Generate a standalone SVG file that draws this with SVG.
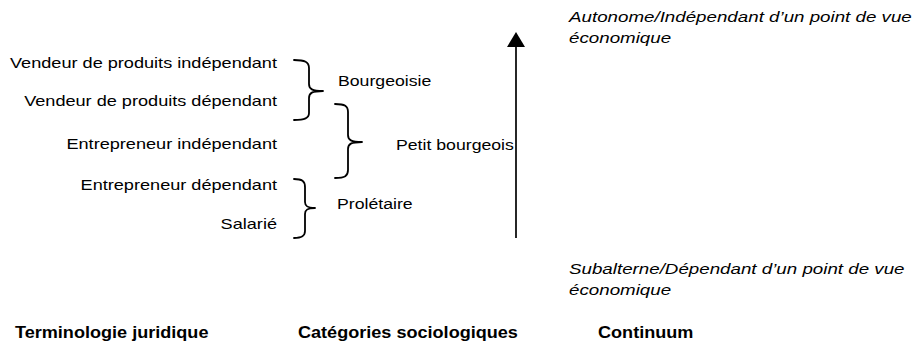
<svg xmlns="http://www.w3.org/2000/svg" width="923" height="341" viewBox="0 0 923 341">
<defs>
<style>
text{font-family:"Liberation Sans",Arial,sans-serif;fill:#000}
.r{font-size:14.5px}
.e{text-anchor:end}
.i{font-size:15px;font-style:italic}
.b{font-size:16px;font-weight:bold}
.br{fill:none;stroke:#000;stroke-width:1.8;stroke-linecap:round;stroke-linejoin:round}
.ax{stroke:#000;stroke-width:1.7}
</style>
</defs>
<rect width="923" height="341" fill="#fff"/>
<g id="legal">
<g id="t1"><text class="r e" transform="translate(277,68) scale(1.25,1)">Vendeur de produits indépendant</text></g>
<g id="t2"><text class="r e" transform="translate(277,106) scale(1.25,1)">Vendeur de produits dépendant</text></g>
<g id="t3"><text class="r e" transform="translate(277,149) scale(1.25,1)">Entrepreneur indépendant</text></g>
<g id="t4"><text class="r e" transform="translate(277,190) scale(1.25,1)">Entrepreneur dépendant</text></g>
<g id="t5"><text class="r e" transform="translate(277,229) scale(1.25,1)">Salarié</text></g>
</g>
<g id="bourgeoisie">
<path class="br" d="M294,60 C305,60 309,62 309,68 L309,84 C309,89 312,91 323,91 C312,91 309,93 309,98 L309,113 C309,118 305,120 294,120"/>
<text class="r" transform="translate(338,86) scale(1.22,1)">Bourgeoisie</text>
</g>
<g id="petit-bourgeois">
<path class="br" d="M335,104 C345,104 348,106 348,112 L348,135 C348,140 351,142 362,142 C351,142 348,144 348,149 L348,170 C348,176 345,178 335,178"/>
<text class="r" transform="translate(396,150) scale(1.22,1)">Petit bourgeois</text>
</g>
<g id="proletaire">
<path class="br" d="M294,179 C302,179 305,181 305,187 L305,202 C305,206 307,208 315,208 C307,208 305,210 305,214 L305,231 C305,236 302,238 294,238"/>
<text class="r" transform="translate(337,209) scale(1.22,1)">Prolétaire</text>
</g>
<g id="connectors">
<line class="ax" x1="516" y1="238" x2="516" y2="45"/>
<polygon points="516,32 525,47 507,47" fill="#000"/>
</g>
<g id="autonome">
<text class="i" transform="translate(569,22) scale(1.25,1)">Autonome/Indépendant d’un point de vue</text>
<text class="i" transform="translate(569,43) scale(1.25,1)">économique</text>
</g>
<g id="subalterne">
<text class="i" transform="translate(569,274) scale(1.25,1)">Subalterne/Dépendant d’un point de vue</text>
<text class="i" transform="translate(569,295) scale(1.25,1)">économique</text>
</g>
<g id="headers">
<text class="b" transform="translate(15,338) scale(1.13,1)">Terminologie juridique</text>
<text class="b" transform="translate(298,338) scale(1.13,1)">Catégories sociologiques</text>
<text class="b" transform="translate(598,338) scale(1.13,1)">Continuum</text>
</g>
</svg>
